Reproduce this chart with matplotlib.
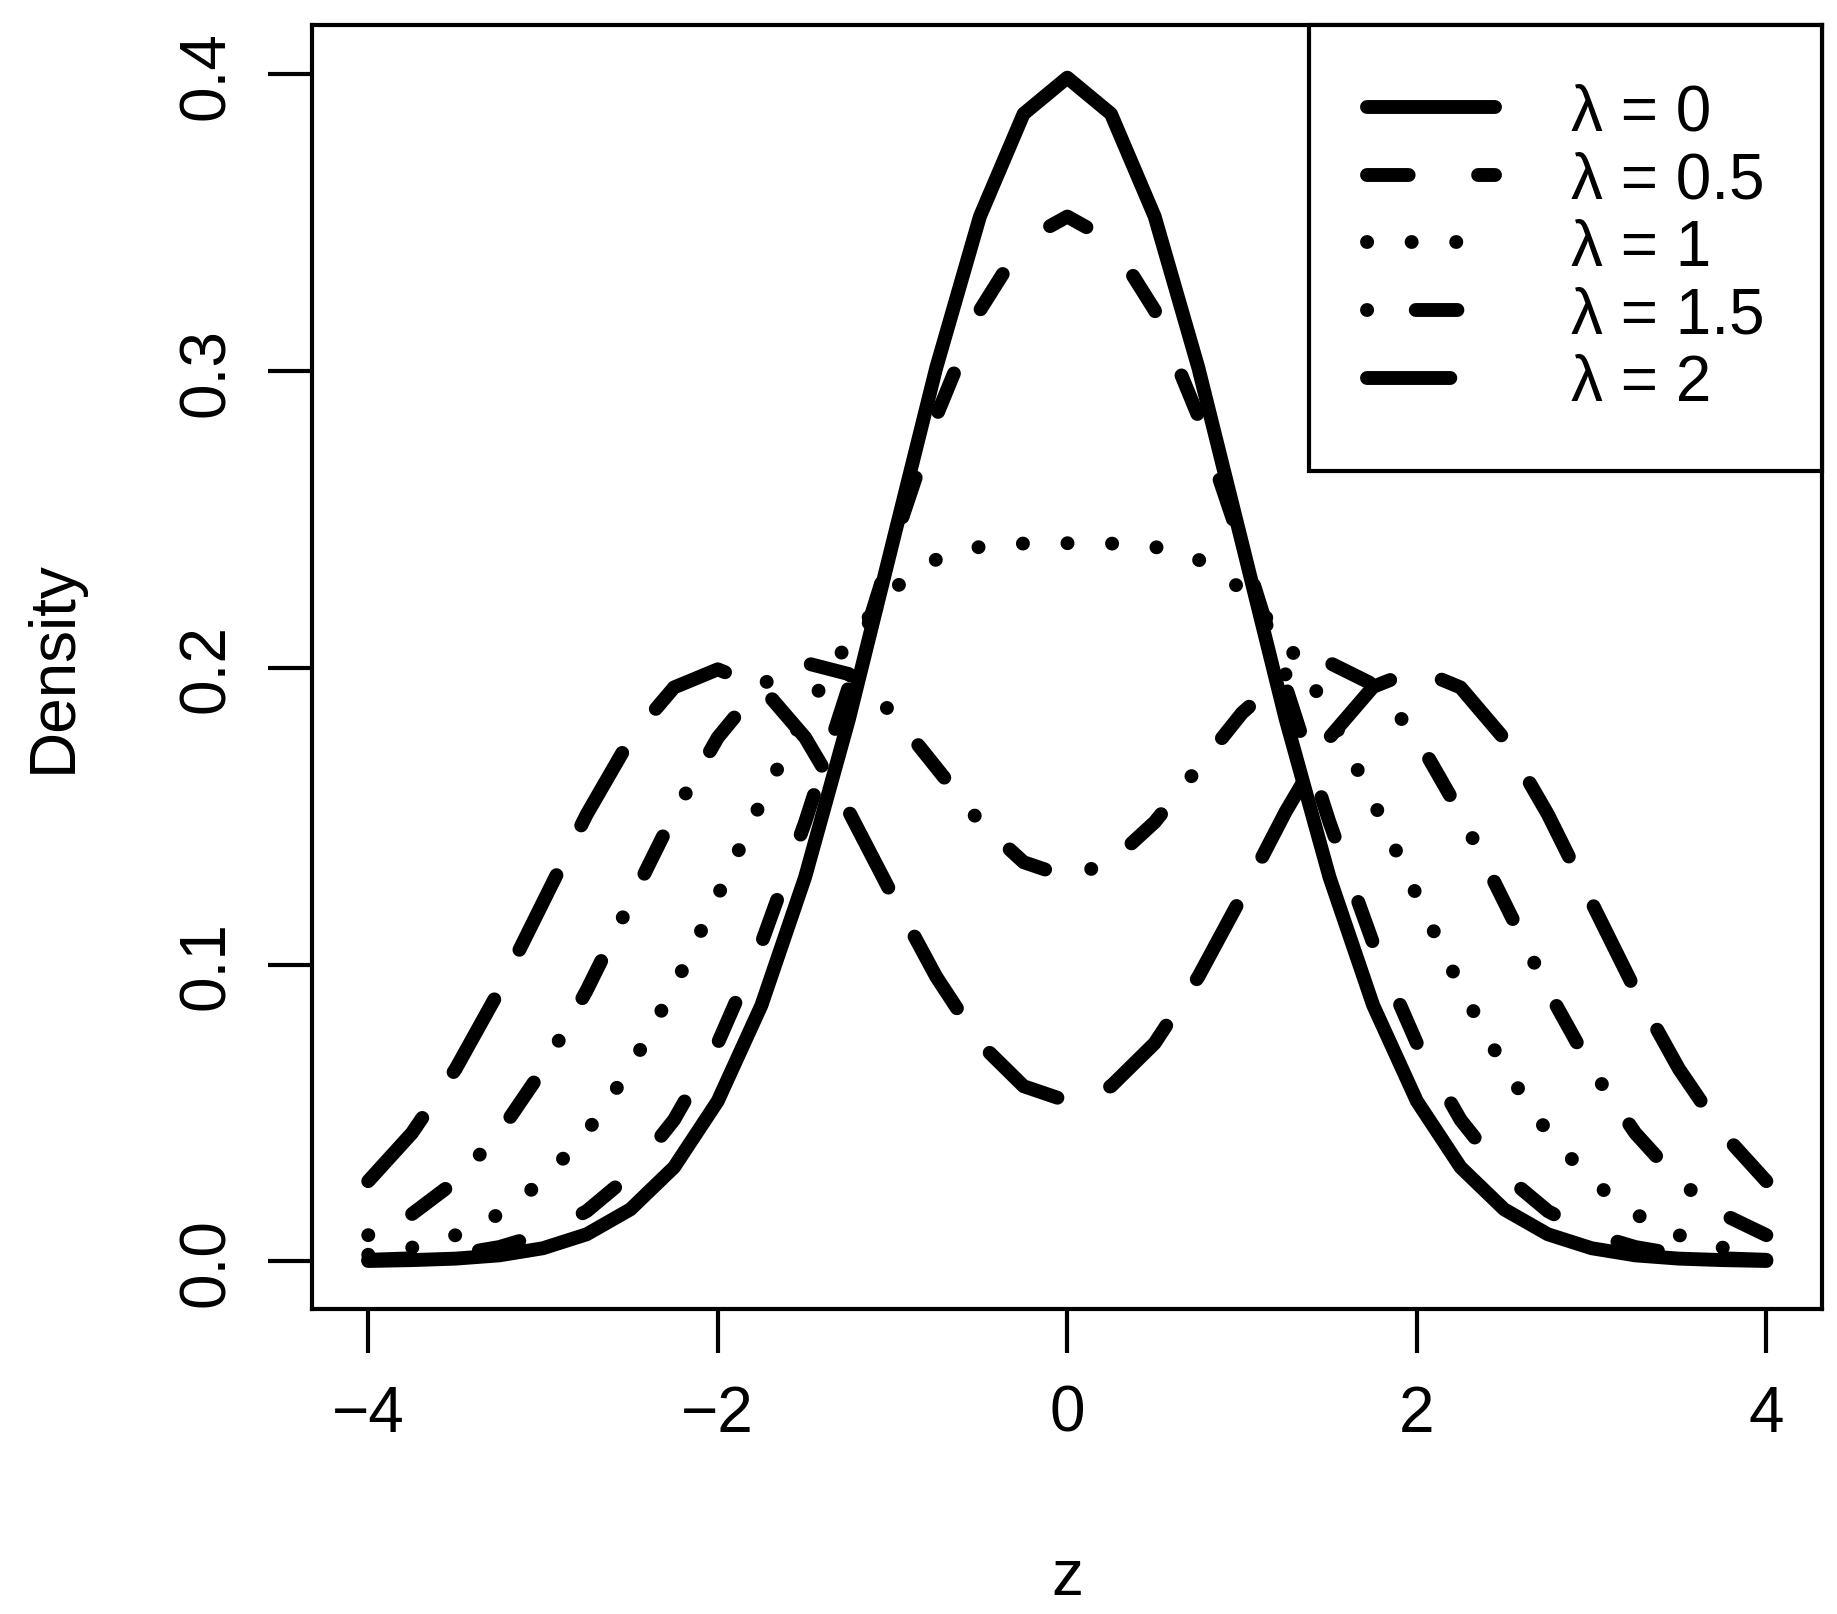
import matplotlib
matplotlib.use("Agg")
import matplotlib.pyplot as plt

plt.rcParams['font.family'] = ['Liberation Sans', 'DejaVu Sans']

# density values at z = 0, 0.25, ..., 4 (curves are symmetric)
z_half = [0, 0.25, 0.5, 0.75, 1, 1.25, 1.5, 1.75, 2, 2.25, 2.5, 2.75, 3, 3.25, 3.5, 3.75, 4]
d_lam0 = [0.3989, 0.3867, 0.3521, 0.3011, 0.2420, 0.1826, 0.1295, 0.0863, 0.0540,
          0.0317, 0.0175, 0.0091, 0.0044, 0.0020, 0.0009, 0.0004, 0.0001]
d_lam05 = [0.3521, 0.3439, 0.3205, 0.2847, 0.2408, 0.1937, 0.1480, 0.1072, 0.0735,
           0.0477, 0.0292, 0.0169, 0.0092, 0.0048, 0.0023, 0.0010, 0.0005]
d_lam1 = [0.2420, 0.2419, 0.2408, 0.2365, 0.2265, 0.2092, 0.1848, 0.1551, 0.1232,
          0.0923, 0.0652, 0.0434, 0.0271, 0.0159, 0.0088, 0.0046, 0.0022]
d_lam15 = [0.1295, 0.1345, 0.1480, 0.1664, 0.1848, 0.1979, 0.2017, 0.1944, 0.1765,
           0.1508, 0.1211, 0.0913, 0.0648, 0.0432, 0.0270, 0.0159, 0.0088]
d_lam2 = [0.0540, 0.0590, 0.0735, 0.0959, 0.1232, 0.1516, 0.1765, 0.1936, 0.1995,
          0.1934, 0.1761, 0.1506, 0.1210, 0.0913, 0.0648, 0.0432, 0.0270]
labels = ["λ = 0", "λ = 0.5", "λ = 1", "λ = 1.5", "λ = 2"]
x_ticks = [-4, -2, 0, 2, 4]
y_ticks = [0.0, 0.1, 0.2, 0.3, 0.4]


def mirror(vals):
    return vals[::-1] + vals[1:]


z = [-v for v in z_half[::-1]] + z_half[1:]
series = [d_lam0, d_lam05, d_lam1, d_lam15, d_lam2]
styles = ['-', (0, (3, 5)), (0, (0.01, 3.2)), (0, (0.01, 3.5, 3, 3.5)), (0, (6, 4))]

fig = plt.figure(figsize=(18.37, 16.15), dpi=100)
ax = fig.add_axes([0.170, 0.189, 0.822, 0.795])

for d, ls, lab in zip(series, styles, labels):
    ax.plot(z, mirror(d), color='black', lw=10, linestyle=ls,
            dash_capstyle='round', solid_capstyle='round', label=lab)

ax.set_xlim(-4.32, 4.32)
ax.set_ylim(-0.016, 0.4167)
ax.set_xticks(x_ticks)
ax.set_xticklabels(['\u22124', '\u22122', '0', '2', '4'])
ax.set_yticks(y_ticks)
ax.set_yticklabels(['0.0', '0.1', '0.2', '0.3', '0.4'], rotation=90, va='center')
ax.tick_params(length=32, width=3, labelsize=46, pad=22)
for s in ax.spines.values():
    s.set_linewidth(3)

leg = ax.legend(loc='upper right', bbox_to_anchor=(1, 1), borderaxespad=0,
                fontsize=46, handlelength=2.0, handletextpad=1.2,
                labelspacing=0.12, borderpad=0.9, fancybox=False,
                framealpha=1, edgecolor='black')
leg.get_frame().set_linewidth(3)

fig.text(0.029, 0.587, 'Density', rotation=90, ha='center', va='center', fontsize=46)
fig.text(0.581, 0.023, 'z', ha='center', va='center', fontsize=46)

fig.savefig('out.png', dpi=100)
